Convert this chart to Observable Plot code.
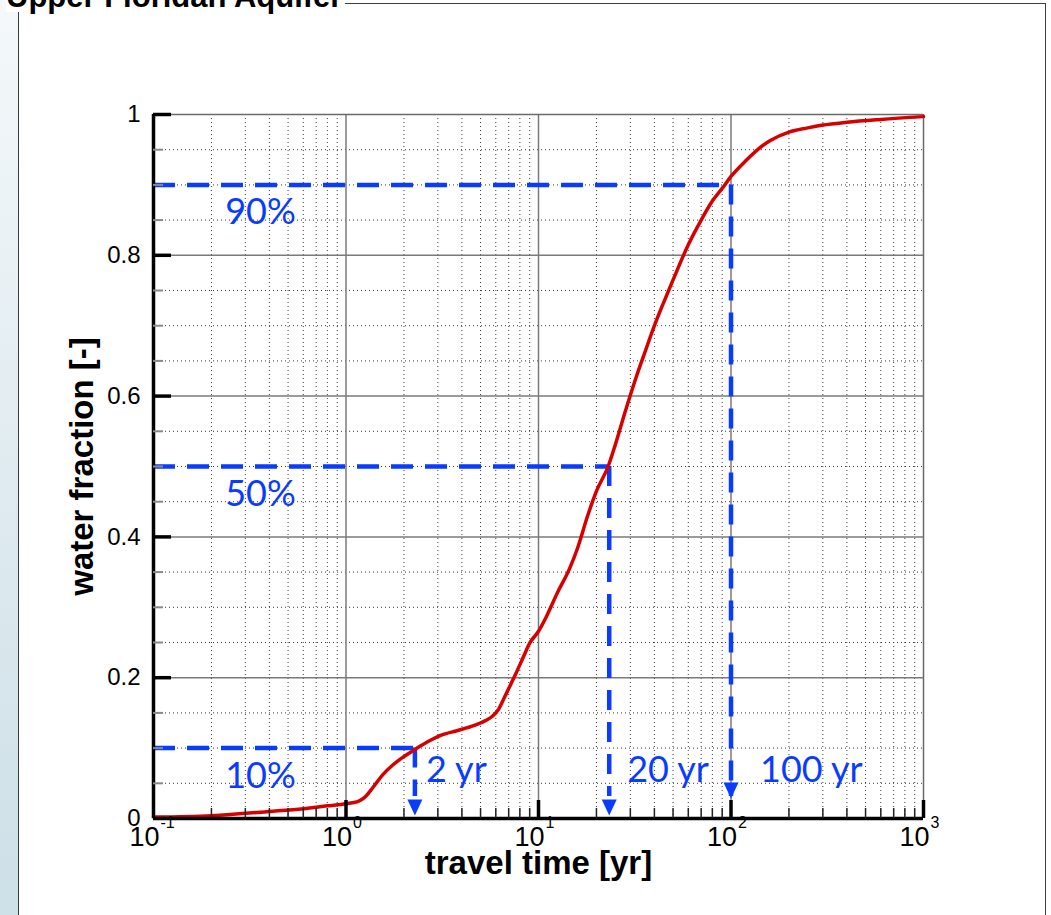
<!DOCTYPE html>
<html><head><meta charset="utf-8">
<script src="https://cdn.jsdelivr.net/npm/d3@7"></script>
<script src="https://cdn.jsdelivr.net/npm/@observablehq/plot@0.6"></script>
<style>
html,body{margin:0;padding:0;background:#fff;}
#stage{position:relative;width:1051px;height:915px;overflow:hidden;background:#fff;}
#strip{position:absolute;left:0;top:0;width:18px;height:915px;background:linear-gradient(to bottom,#f4f8fa,#cddfe7);}
#frame{position:absolute;left:18px;top:3px;width:1028px;height:1000px;border:1.5px solid #3c3c3c;box-sizing:border-box;}
#title{position:absolute;left:6px;top:-19px;font:bold 31px/31px "Liberation Sans",Arial,sans-serif;background:#fff;padding-right:3px;white-space:nowrap;color:#000;}
#chart{position:absolute;left:0;top:0;}
</style></head><body>
<div id="stage"><div id="strip"></div><div id="frame"></div><div id="title">Upper Floridan Aquifer</div><div id="chart"></div></div>
<script>
// ---- data ----
const curveT = [0.1, 0.2, 0.4, 0.6, 0.8, 1.0, 1.15, 1.25, 1.38, 1.55, 1.75, 2.0, 2.34, 2.7, 3.1, 3.8, 4.6, 5.3, 5.8, 6.2, 6.6, 7.1, 7.6, 8.3, 9.0, 10, 11, 12.5, 14.5, 16, 18, 20, 23, 25, 28, 32, 36, 40, 45, 50, 60, 70, 80, 90, 100, 120, 140, 160, 200, 250, 300, 400, 600, 1000];
const curveF = [0.002, 0.004, 0.010, 0.014, 0.018, 0.021, 0.024, 0.030, 0.044, 0.062, 0.076, 0.088, 0.100, 0.110, 0.118, 0.125, 0.132, 0.139, 0.146, 0.155, 0.170, 0.188, 0.205, 0.228, 0.249, 0.266, 0.287, 0.320, 0.355, 0.385, 0.430, 0.465, 0.500, 0.530, 0.575, 0.625, 0.665, 0.700, 0.735, 0.765, 0.815, 0.850, 0.877, 0.895, 0.912, 0.935, 0.952, 0.963, 0.975, 0.981, 0.985, 0.989, 0.993, 0.997];
const levels = [0.1, 0.5, 0.9];
const levelLabels = ["10%", "50%", "90%"];
const times = [2.28, 23.3, 100];
const timeLabels = ["2 yr", "20 yr", "100 yr"];
const xDecades = [0.1, 1, 10, 100, 1000];
const xExponents = ["-1", "0", "1", "2", "3"];
const yTicks = [0, 0.2, 0.4, 0.6, 0.8, 1];
const yTickLabels = ["0", "0.2", "0.4", "0.6", "0.8", "1"];
const xTitle = "travel time [yr]";
const yTitle = "water fraction [-]";

// derived grid positions
const xMinor = [0.1, 1, 10, 100].flatMap(d => d3.range(2, 10).map(k => d * k));
const yMinor = d3.range(1, 20).map(k => +(k * 0.05).toFixed(2)).filter(v => Math.abs(v / 0.2 - Math.round(v / 0.2)) > 1e-6);
const xMajorInner = xDecades.slice(1, -1);
const yMajorInner = yTicks.slice(1, -1);

// ---- layout ----
const W = 1051, H = 915, mL = 153, mR = 128, mT = 114, mB = 97;
const plotW = W - mL - mR, plotH = H - mT - mB;
const blue = "#0a3cff", red = "#d60000";
const sans = "Liberation Sans, Arial, sans-serif";
const downTri = {draw(ctx) { ctx.moveTo(0, 0); ctx.lineTo(-7.5, -16); ctx.lineTo(7.5, -16); ctx.closePath(); }};
const yearDx = [11, 18, 29];
const arrowDy = [-3, -3, -20];

const marks = [
  Plot.ruleX(xMinor, {x: d => d, stroke: "#3a3a3a", strokeWidth: 1, strokeDasharray: "1,3"}),
  Plot.ruleY(yMinor, {y: d => d, stroke: "#3a3a3a", strokeWidth: 1, strokeDasharray: "1,3"}),
  Plot.ruleX(xMajorInner, {x: d => d, stroke: "#7a7a7a", strokeWidth: 1.5}),
  Plot.ruleY(yMajorInner, {y: d => d, stroke: "#7a7a7a", strokeWidth: 1.5}),
  Plot.ruleX([1000], {x: d => d, stroke: "#6a6a6a", strokeWidth: 1.5}),
  Plot.ruleY([1], {y: d => d, stroke: "#6a6a6a", strokeWidth: 1.5}),
  // blue guide lines
  Plot.ruleY(levels, {y: d => d, x1: 0.1, x2: (d, i) => times[i], stroke: blue, strokeWidth: 4.5, strokeDasharray: "22,12"}),
  Plot.ruleX(times, {x: d => d, y1: (d, i) => levels[i], y2: 0, insetBottom: 22, stroke: blue, strokeWidth: 4.5, strokeDasharray: "20,12"}),
  // curve
  Plot.line(curveT, {x: d => d, y: (d, i) => curveF[i], stroke: red, strokeWidth: 3.5, curve: "monotone-x"}),
  // axes lines
  Plot.ruleX([0.1], {x: d => d, stroke: "#000", strokeWidth: 3.5}),
  Plot.ruleY([0], {y: d => d, stroke: "#000", strokeWidth: 3.5}),
  // ticks
  Plot.tickX(xMinor, {x: d => d, insetTop: plotH - 10, stroke: "#222", strokeWidth: 1.5}),
  Plot.tickX(xDecades.slice(1), {x: d => d, insetTop: plotH - 18, stroke: "#000", strokeWidth: 3.5}),
  Plot.tickY(yMinor, {y: d => d, insetRight: plotW - 10, stroke: "#8a8a8a", strokeWidth: 2}),
  Plot.tickY(yTicks.slice(1), {y: d => d, insetRight: plotW - 18, stroke: "#000", strokeWidth: 3.5}),
  // arrowheads
  ...times.map((t, i) => Plot.dot([t], {x: d => d, y: () => 0, symbol: downTri, r: 6, fill: blue, stroke: "none", dy: arrowDy[i]})),
  // tick labels
  Plot.text(yTicks, {y: d => d, frameAnchor: "left", dx: -13, textAnchor: "end", text: (d, i) => yTickLabels[i], fontSize: 24, fontFamily: sans, fill: "#000"}),
  Plot.text(xDecades, {x: d => d, frameAnchor: "bottom", dx: 6, dy: 27, textAnchor: "end", text: () => "10", fontSize: 27, fontFamily: sans, fill: "#000"}),
  Plot.text(xDecades, {x: d => d, frameAnchor: "bottom", dx: 7, dy: 9, textAnchor: "start", text: (d, i) => xExponents[i], fontSize: 16, fontFamily: sans, fill: "#000"}),
  // axis titles
  Plot.text([xTitle], {frameAnchor: "bottom", dy: 55, textAnchor: "middle", text: d => d, fontSize: 33, fontWeight: "bold", fontFamily: sans, fill: "#000"}),
  Plot.text([yTitle], {frameAnchor: "left", dx: -71, rotate: -90, textAnchor: "middle", text: d => d, fontSize: 33, fontWeight: "bold", fontFamily: sans, fill: "#000"}),
  // blue annotation labels
  Plot.text(levels, {y: d => d, frameAnchor: "left", dx: 107, dy: 28, textAnchor: "middle", text: (d, i) => levelLabels[i], fill: blue, fontSize: 36, fontFamily: "Lato, sans-serif"}),
  ...times.map((t, i) => Plot.text([t], {x: d => d, frameAnchor: "bottom", dx: yearDx[i], dy: -37, textAnchor: "start", text: () => timeLabels[i], fill: blue, fontSize: 36, fontFamily: "Lato, sans-serif"}))
];

const chart = Plot.plot({
  width: W, height: H,
  marginLeft: mL, marginRight: mR, marginTop: mT, marginBottom: mB,
  style: {background: "transparent", fontFamily: sans, overflow: "visible"},
  x: {type: "log", domain: [0.1, 1000], axis: null},
  y: {domain: [0, 1], axis: null},
  marks
});
document.getElementById("chart").append(chart);
</script></body></html>
